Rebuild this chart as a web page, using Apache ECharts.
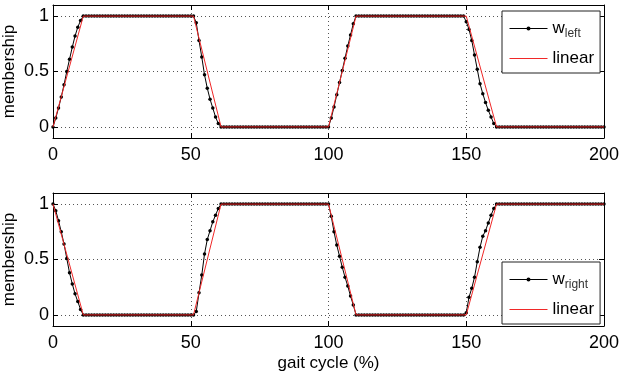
<!DOCTYPE html>
<html>
<head>
<meta charset="utf-8">
<script src="https://cdn.jsdelivr.net/npm/echarts@6/dist/echarts.min.js"></script>
<style>html,body{margin:0;padding:0;background:#fff}#c{width:623px;height:372px}</style>
</head>
<body>
<div id="c"></div>
<script>
// x samples (gait cycle, %)
const gaitCycle = [0,1,2,3,4,5,6,7,8,9,10,11,12,13,14,15,16,17,18,19,20,21,22,23,24,25,26,27,28,29,30,31,32,33,34,35,36,37,38,39,40,41,42,43,44,45,46,47,48,49,50,51,52,53,54,55,56,57,58,59,60,61,62,63,64,65,66,67,68,69,70,71,72,73,74,75,76,77,78,79,80,81,82,83,84,85,86,87,88,89,90,91,92,93,94,95,96,97,98,99,100,101,102,103,104,105,106,107,108,109,110,111,112,113,114,115,116,117,118,119,120,121,122,123,124,125,126,127,128,129,130,131,132,133,134,135,136,137,138,139,140,141,142,143,144,145,146,147,148,149,150,151,152,153,154,155,156,157,158,159,160,161,162,163,164,165,166,167,168,169,170,171,172,173,174,175,176,177,178,179,180,181,182,183,184,185,186,187,188,189,190,191,192,193,194,195,196,197,198,199,200];

const wLeft = [
0,0.08,0.17,0.27,0.38,0.5,0.61,0.72,0.82,0.9,0.96,1,
1,1,1,1,1,1,1,1,1,1,1,1,1,1,1,1,1,1,1,1,1,1,1,1,1,1,1,1,1,1,1,1,1,1,1,1,1,1,1,1,
0.94,0.78,0.63,0.47,0.35,0.25,0.17,0.09,0.03,0,
0,0,0,0,0,0,0,0,0,0,0,0,0,0,0,0,0,0,0,0,0,0,0,0,0,0,0,0,0,0,0,0,0,0,0,0,0,0,0,
0.08,0.18,0.29,0.4,0.51,0.62,0.73,0.83,0.93,1,
1,1,1,1,1,1,1,1,1,1,1,1,1,1,1,1,1,1,1,1,1,1,1,1,1,1,1,1,1,1,1,1,1,1,1,1,1,1,1,
0.95,0.88,0.78,0.65,0.52,0.39,0.3,0.22,0.15,0.09,0.03,0,
0,0,0,0,0,0,0,0,0,0,0,0,0,0,0,0,0,0,0,0,0,0,0,0,0,0,0,0,0,0,0,0,0,0,0,0,0,0,0
];

const wRight = [
1,0.94,0.85,0.75,0.64,0.51,0.38,0.28,0.19,0.12,0.05,0,
0,0,0,0,0,0,0,0,0,0,0,0,0,0,0,0,0,0,0,0,0,0,0,0,0,0,0,0,0,0,0,0,0,0,0,0,0,0,0,0,
0.03,0.2,0.36,0.55,0.68,0.76,0.84,0.9,0.96,1,
1,1,1,1,1,1,1,1,1,1,1,1,1,1,1,1,1,1,1,1,1,1,1,1,1,1,1,1,1,1,1,1,1,1,1,1,1,1,1,
0.89,0.75,0.63,0.53,0.43,0.34,0.26,0.17,0.09,0,
0,0,0,0,0,0,0,0,0,0,0,0,0,0,0,0,0,0,0,0,0,0,0,0,0,0,0,0,0,0,0,0,0,0,0,0,0,0,0,
0.02,0.16,0.24,0.34,0.48,0.61,0.71,0.76,0.83,0.9,0.96,1,
1,1,1,1,1,1,1,1,1,1,1,1,1,1,1,1,1,1,1,1,1,1,1,1,1,1,1,1,1,1,1,1,1,1,1,1,1,1,1
];

// linear approximations (breakpoints)
const linearLeftX = [0,11,51,61,100,110,150,161,200];
const linearLeftY = [0,1,1,0,0,1,1,0,0];
const linearRightX = [0,11,51,61,100,110,150,161,200];
const linearRightY = [1,0,0,1,1,0,0,1,1];

const yTicks = [0,0.5,1];

const FONT = '"Liberation Sans", Arial, sans-serif';
const pairs = (xs, ys) => xs.map((x, i) => [x, ys[i]]);

const chart = echarts.init(document.getElementById('c'), null, {renderer: 'canvas'});

const grids = [
  {left: 53, top: 5, width: 551, height: 133, containLabel: false, outerBoundsMode: 'none'},
  {left: 53, top: 193, width: 551, height: 133, containLabel: false, outerBoundsMode: 'none'}
];

function xAx(gi, pos, labels, name) {
  return {
    type: 'value', gridIndex: gi, position: pos, min: 0, max: 200, interval: 50,
    axisLine: {show: true, onZero: false, lineStyle: {color: '#000', width: 1}},
    axisTick: {show: true, inside: true, length: 5, lineStyle: {color: '#000'}},
    axisLabel: {show: labels, fontSize: 18, color: '#000', fontFamily: FONT, margin: 8},
    splitLine: {show: labels, lineStyle: {color: '#555', type: [1, 3], width: 1}},
    name: name || '', nameLocation: 'middle', nameGap: 29, nameMoveOverlap: false,
    nameTextStyle: {fontSize: 17, color: '#000', fontFamily: FONT}
  };
}
function yAx(gi, pos, labels) {
  return {
    type: 'value', gridIndex: gi, position: pos, min: -0.1, max: 1.1,
    axisLine: {show: true, onZero: false, lineStyle: {color: '#000', width: 1}},
    axisTick: {show: true, inside: true, length: 5, customValues: yTicks, lineStyle: {color: '#000'}},
    axisLabel: {show: labels, customValues: yTicks, fontSize: 18, color: '#000', fontFamily: FONT, margin: 4},
    splitLine: {show: labels, lineStyle: {color: '#555', type: [1, 3], width: 1}},
    name: labels ? 'membership' : '', nameLocation: 'middle', nameGap: 35, nameMoveOverlap: false,
    nameTextStyle: {fontSize: 17, color: '#000', fontFamily: FONT}
  };
}

const LINE_ICON = 'path://M0,0L38,0L38,1.2L0,1.2Z';

function legendFor(names, top) {
  return {
    data: [{name: names[0]}, {name: names[1], icon: LINE_ICON, itemStyle: {color: '#f02828'}}],
    orient: 'vertical', left: 502, top: top,
    padding: [9, 6, 6, 7], itemWidth: 38, itemHeight: 5, itemGap: 10,
    symbolKeepAspect: true,
    lineStyle: {width: 1},
    borderColor: '#222', borderWidth: 1, backgroundColor: '#fff', borderRadius: 0,
    textStyle: {fontSize: 17, color: '#000', fontFamily: FONT,
      rich: {
        w: {fontSize: 17, color: '#000', fontFamily: FONT},
        s: {fontSize: 12, color: '#333', fontFamily: FONT, padding: [11, 0, 0, 0]}
      }
    },
    formatter: function (n) {
      if (n === 'w_left') return '{w|w}{s|left}';
      if (n === 'w_right') return '{w|w}{s|right}';
      return n;
    },
    selectedMode: false
  };
}

const blackStyle = {
  type: 'line', symbol: 'circle', symbolSize: 3.5, showAllSymbol: true,
  lineStyle: {color: '#000', width: 1}, itemStyle: {color: '#000'},
  animation: false, z: 2
};
const redStyle = {
  type: 'line', symbol: 'none', lineStyle: {color: '#f02828', width: 1},
  itemStyle: {color: '#f02828'}, animation: false, z: 3
};

chart.setOption({
  backgroundColor: '#fff',
  animation: false,
  grid: grids,
  xAxis: [xAx(0, 'bottom', true), xAx(0, 'top', false), xAx(1, 'bottom', true, 'gait cycle (%)'), xAx(1, 'top', false)],
  yAxis: [yAx(0, 'left', true), yAx(0, 'right', false), yAx(1, 'left', true), yAx(1, 'right', false)],
  legend: [legendFor(['w_left', 'linear'], 11), legendFor(['w_right', 'linear'], 262)],
  series: [
    Object.assign({}, blackStyle, {name: 'w_left', xAxisIndex: 0, yAxisIndex: 0, data: pairs(gaitCycle, wLeft)}),
    Object.assign({}, redStyle, {name: 'linear', xAxisIndex: 0, yAxisIndex: 0, data: pairs(linearLeftX, linearLeftY)}),
    Object.assign({}, blackStyle, {name: 'w_right', xAxisIndex: 2, yAxisIndex: 2, data: pairs(gaitCycle, wRight)}),
    Object.assign({}, redStyle, {name: 'linear', xAxisIndex: 2, yAxisIndex: 2, data: pairs(linearRightX, linearRightY)})
  ]
});
</script>
</body>
</html>
